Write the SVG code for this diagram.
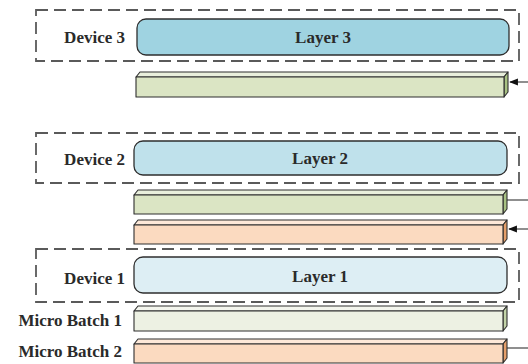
<svg xmlns="http://www.w3.org/2000/svg" width="528" height="364" viewBox="0 0 528 364">
<defs>
<style>
.dev{fill:none;stroke:#5a5a5a;stroke-width:1.8;stroke-dasharray:12 6}
.layer{stroke:#2e2e2e;stroke-width:1.3}
.lbl{font-family:"Liberation Serif","Times New Roman",serif;font-weight:bold;font-size:17px;fill:#2a2a2a}
.edge{stroke:#2e2e2e;stroke-width:1.1;stroke-linejoin:round}
.gf{fill:#dbe5c4}.gt{fill:#e9efdc}.gs{fill:#a8c183}
.lf{fill:#edf1e3}.lt{fill:#f4f6ee}.ls{fill:#c3d3a8}
.of{fill:#fbdac0}.ot{fill:#fde8d8}.os{fill:#e59f6a}
.conn{stroke:#333;stroke-width:1.1;fill:none}
</style>
<marker id="ah" viewBox="0 0 10 10" refX="9" refY="5" markerWidth="8" markerHeight="8" orient="auto">
<path d="M0,1 L10,5 L0,9 z" fill="#111"/>
</marker>
</defs>
<rect width="528" height="364" fill="#ffffff"/>

<g id="device3">
<rect class="dev" x="36" y="10" width="483" height="51"/>
<text class="lbl" x="125" y="43" text-anchor="end">Device 3</text>
<rect id="layer3" class="layer" x="137" y="19" width="372" height="36" rx="9" fill="#9fd3e1"/>
<text class="lbl" x="323" y="43" text-anchor="middle">Layer 3</text>
</g>
<g id="bar3">
<polygon class="gt edge" points="136,77 140,72 508,72 504,77"/>
<polygon class="gs edge" points="504,77 508,72 508,92 504,97"/>
<rect class="gf edge" x="136" y="77" width="368" height="20"/>
</g>

<g id="device2">
<rect class="dev" x="36" y="133" width="483" height="50"/>
<text class="lbl" x="125" y="165" text-anchor="end">Device 2</text>
<rect id="layer2" class="layer" x="134" y="141" width="373" height="34" rx="9" fill="#bfe1eb"/>
<text class="lbl" x="320" y="164" text-anchor="middle">Layer 2</text>
</g>
<g id="bar2g">
<polygon class="gt edge" points="134,195 138,190 507,190 503,195"/>
<polygon class="gs edge" points="503,195 507,190 507,209 503,214"/>
<rect class="gf edge" x="134" y="195" width="369" height="19"/>
</g>
<g id="bar2o">
<polygon class="ot edge" points="134,225 138,220 507,220 503,225"/>
<polygon class="os edge" points="503,225 507,220 507,239 503,244"/>
<rect class="of edge" x="134" y="225" width="369" height="19"/>
</g>

<g id="device1">
<rect class="dev" x="36" y="249" width="483" height="53"/>
<text class="lbl" x="125" y="284" text-anchor="end">Device 1</text>
<rect id="layer1" class="layer" x="134" y="257" width="373" height="36" rx="9" fill="#ddeef4"/>
<text class="lbl" x="320" y="282" text-anchor="middle">Layer 1</text>
</g>
<g id="mb1">
<text class="lbl" x="122" y="326" text-anchor="end">Micro Batch 1</text>
<polygon class="lt edge" points="134,311 138,306 507,306 503,311"/>
<polygon class="ls edge" points="503,311 507,306 507,326 503,331"/>
<rect class="lf edge" x="134" y="311" width="369" height="20"/>
</g>
<g id="mb2">
<text class="lbl" x="122" y="357" text-anchor="end">Micro Batch 2</text>
<polygon class="ot edge" points="134,344 138,339 507,339 503,344"/>
<polygon class="os edge" points="503,344 507,339 507,358 503,363"/>
<rect class="of edge" x="134" y="344" width="369" height="19"/>
</g>

<g id="connectors">
<line class="conn" x1="528" y1="82" x2="510" y2="82" marker-end="url(#ah)"/>
<line class="conn" x1="507" y1="200" x2="528" y2="200"/>
<line class="conn" x1="528" y1="229" x2="509" y2="229" marker-end="url(#ah)"/>
<line class="conn" x1="507" y1="348" x2="528" y2="348"/>
</g>
</svg>
